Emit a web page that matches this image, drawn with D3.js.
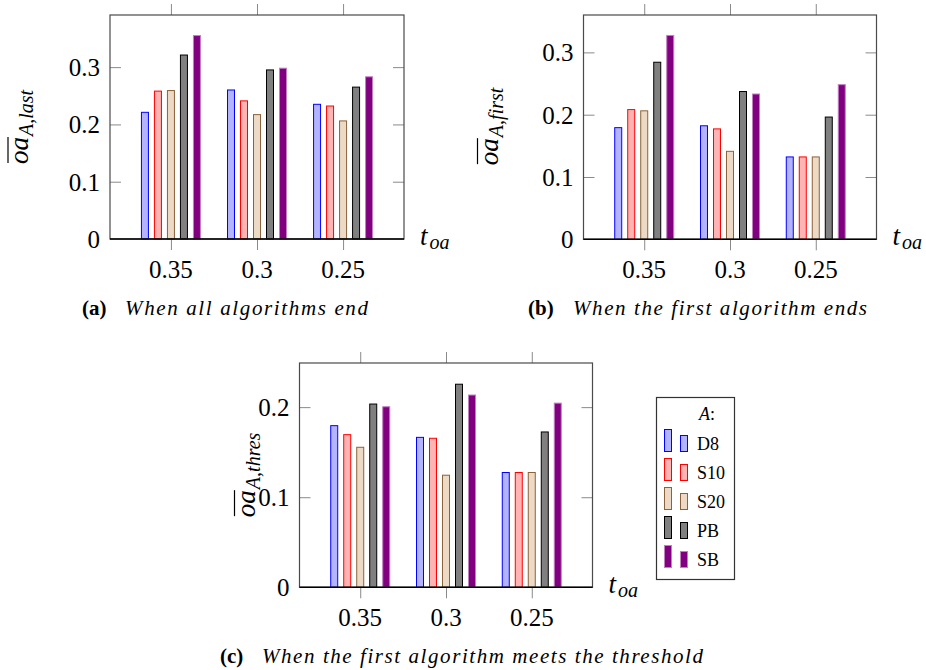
<!DOCTYPE html>
<meta charset="utf-8">
<head>
  <script src="https://cdn.jsdelivr.net/npm/d3@7"></script>
</head>
<body style="margin:0">
<svg id="fig" width="926" height="670"></svg>

<script>
// t_oa values on the x axis
var categorias = ["0.35", "0.3", "0.25"];
var algoritmos = ["D8", "S10", "S20", "PB", "SB"];

// one row per t_oa, one value per algorithm (D8, S10, S20, PB, SB)
var oaLast  = [[0.222, 0.259, 0.260, 0.322, 0.356],
               [0.261, 0.242, 0.218, 0.296, 0.299],
               [0.236, 0.233, 0.207, 0.266, 0.284]];
var oaFirst = [[0.180, 0.209, 0.207, 0.285, 0.328],
               [0.183, 0.178, 0.142, 0.238, 0.234],
               [0.133, 0.133, 0.133, 0.197, 0.249]];
var oaThres = [[0.180, 0.170, 0.156, 0.204, 0.201],
               [0.167, 0.166, 0.125, 0.226, 0.214],
               [0.128, 0.128, 0.128, 0.173, 0.205]];

var ticksAB = [0, 0.1, 0.2, 0.3];
var ticksC  = [0, 0.1, 0.2];

var preenchimento = ["#b3b3ff", "#ffb3b3", "#ecd9c6", "#808080", "#800080"];
var contorno      = ["#0000ff", "#ff0000", "#8c6239", "#000000", "#c27fc2"];

var svg = d3.select("#fig");

function texto(sel, tam) {
  return sel.append("text")
    .attr("font-family", "Liberation Serif")
    .style("font-family", "'Liberation Serif'")
    .style("font-size", tam + "px");
}

function desenhaPainel(cfg) {
  var w = cfg.w, h = cfg.h;
  var g = svg.append("g").attr("transform", "translate(" + cfg.left + "," + cfg.top + ")");

  var x = d3.scaleLinear().domain([-0.708, 2.708]).range([0, w]);
  var y = d3.scaleLinear().domain([0, cfg.yMax]).range([h, 0]);
  var barra = d3.scaleBand().domain(algoritmos).range([-30, 30]).paddingInner(5 / 13);

  // bars
  cfg.dados.forEach(function(linha, i) {
    g.selectAll(null)
      .data(linha)
      .enter()
      .append("rect")
      .attr("x", function(d, j) { return x(i) + barra(algoritmos[j]) + 0.5; })
      .attr("width", barra.bandwidth() - 1)
      .attr("y", function(d) { return y(d) + 0.5; })
      .attr("height", function(d) { return h - y(d) - 0.5; })
      .attr("fill", function(d, j) { return preenchimento[j]; })
      .attr("stroke", function(d, j) { return contorno[j]; })
      .attr("stroke-width", 1);
  });

  // ticks only (labels are written by hand below with the serif font)
  var eixoBaixo = g.append("g").attr("transform", "translate(0," + h + ")")
    .call(d3.axisBottom(x).tickValues([0, 1, 2]).tickFormat("").tickSize(11).tickSizeOuter(0));
  var eixoTopo = g.append("g")
    .call(d3.axisTop(x).tickValues([0, 1, 2]).tickFormat("").tickSize(11).tickSizeOuter(0));
  var eixoEsq = g.append("g")
    .call(d3.axisLeft(y).tickValues(cfg.ticks.filter(function(t) { return t > 0; })).tickFormat("").tickSize(-11).tickSizeOuter(0));
  var eixoDir = g.append("g").attr("transform", "translate(" + w + ",0)")
    .call(d3.axisRight(y).tickValues(cfg.ticks.filter(function(t) { return t > 0; })).tickFormat("").tickSize(-11).tickSizeOuter(0));
  [eixoBaixo, eixoTopo, eixoEsq, eixoDir].forEach(function(e) {
    e.select(".domain").remove();
    e.selectAll(".tick line").attr("stroke", "#8a8a8a");
    e.selectAll(".tick text").remove();
  });

  categorias.forEach(function(c, i) {
    texto(g, 25).attr("x", x(i)).attr("y", h + 39).attr("text-anchor", "middle").text(c);
  });
  cfg.ticks.forEach(function(t) {
    texto(g, 25).attr("x", -10).attr("y", y(t) + 9).attr("text-anchor", "end").text(d3.format("")(t));
  });

  // frame
  g.append("rect").attr("x", 0).attr("y", 0).attr("width", w).attr("height", h)
    .attr("fill", "none").attr("stroke", "#4a4a4a").attr("stroke-width", 1.2);
  g.append("line").attr("x1", 0).attr("x2", w).attr("y1", h).attr("y2", h)
    .attr("stroke", "#000").attr("stroke-width", 1.5);

  // x title t_oa
  var tx = texto(g, 27).attr("x", w + 16).attr("y", h + 6).style("font-style", "italic");
  tx.append("tspan").text("t");
  tx.append("tspan").style("font-size", "20px").attr("dx", 2).attr("dy", 4).text("oa");

  // y title (rotated) with overline
  var gy = g.append("g");
  var base = texto(gy, 27).attr("x", 0).attr("y", 0).style("font-style", "italic").text("oa");
  var bw = 26;
  gy.append("line").attr("x1", 1).attr("x2", bw + 1).attr("y1", -20).attr("y2", -20)
    .attr("stroke", "#000").attr("stroke-width", 1.2);
  var sub = texto(gy, 20).attr("x", bw + 2).attr("y", 5);
  sub.append("tspan").style("font-style", "italic").text("A");
  sub.append("tspan").text(",");
  sub.append("tspan").style("font-style", "italic").text(cfg.sub);
  var tw = bw + 2 + cfg.subW;
  gy.attr("transform", "translate(" + (-cfg.yLabelGap) + "," + (h / 2 + tw / 2) + ") rotate(-90)");

  // caption
  texto(svg, 21).attr("x", cfg.capX).attr("y", cfg.capY).style("font-weight", "bold").text(cfg.letra);
  texto(svg, 21).attr("x", cfg.capTextX).attr("y", cfg.capY).style("font-style", "italic")
    .attr("textLength", cfg.capW).attr("lengthAdjust", "spacing")
    .text(cfg.legenda);
}

desenhaPainel({ left: 110, top: 15, w: 294, h: 224, yMax: 0.391, ticks: ticksAB, dados: oaLast,
  sub: "last", subW: 46, yLabelGap: 82, letra: "(a)", legenda: "When all algorithms end",
  capX: 82, capTextX: 125, capW: 243, capY: 315 });

desenhaPainel({ left: 583.5, top: 15, w: 293, h: 224.3, yMax: 0.36, ticks: ticksAB, dados: oaFirst,
  sub: "first", subW: 48, yLabelGap: 86, letra: "(b)", legenda: "When the first algorithm ends",
  capX: 528, capTextX: 573, capW: 294, capY: 315 });

desenhaPainel({ left: 299.5, top: 363, w: 293, h: 224.3, yMax: 0.249, ticks: ticksC, dados: oaThres,
  sub: "thres", subW: 56, yLabelGap: 45, letra: "(c)", legenda: "When the first algorithm meets the threshold",
  capX: 220, capTextX: 262, capW: 441, capY: 663 });

// legend
var leg = svg.append("g").attr("transform", "translate(656,397)");
leg.append("rect").attr("x", 0.5).attr("y", 0.5).attr("width", 78).attr("height", 182)
  .attr("fill", "#fff").attr("stroke", "#333").attr("stroke-width", 1.2);
var titulo = texto(leg, 18).attr("x", 43).attr("y", 23);
titulo.append("tspan").style("font-style", "italic").text("A");
titulo.append("tspan").text(":");

var linhaLeg = d3.scaleBand().domain(algoritmos).range([25, 170]);
algoritmos.forEach(function(a, j) {
  var yb = linhaLeg(a) + linhaLeg.bandwidth() + 0.5;
  leg.append("rect").attr("x", 8.5).attr("y", yb - 22).attr("width", 7).attr("height", 22)
    .attr("fill", preenchimento[j]).attr("stroke", contorno[j]);
  leg.append("rect").attr("x", 24.5).attr("y", yb - 16).attr("width", 7).attr("height", 16)
    .attr("fill", preenchimento[j]).attr("stroke", contorno[j]);
  texto(leg, 18).attr("x", 41).attr("y", yb - 2).text(a);
});
</script>
</body>
</html>
